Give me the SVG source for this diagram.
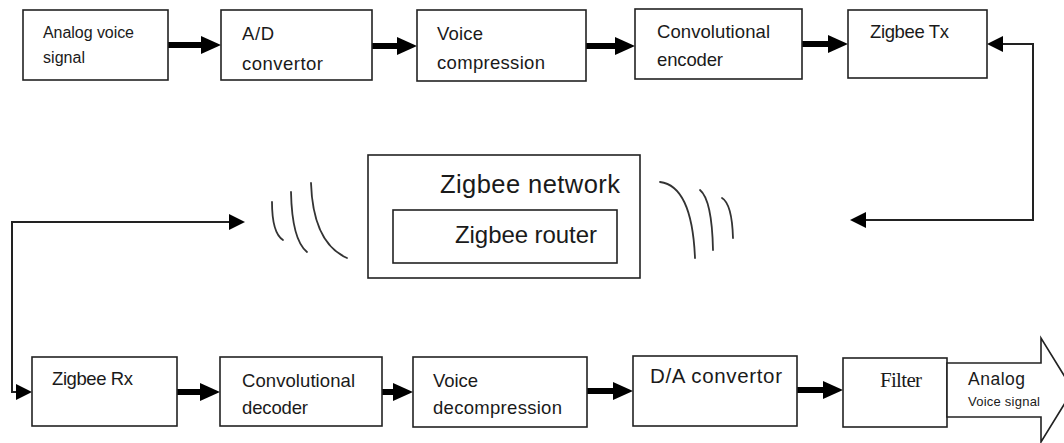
<svg xmlns="http://www.w3.org/2000/svg" width="1064" height="443" viewBox="0 0 1064 443">
<defs>
<style>
.box{fill:#fff;stroke:#222;stroke-width:1.6}
.t{font-family:"Liberation Sans",Arial,sans-serif;font-size:18.5px;fill:#1a1a1a}
.ts{font-family:"Liberation Sans",Arial,sans-serif;font-size:16px;fill:#1a1a1a}
.tl{font-family:"Liberation Sans",Arial,sans-serif;font-size:25.5px;fill:#1a1a1a}
.tf{font-family:"Liberation Serif","Times New Roman",serif;font-size:21px;fill:#1a1a1a}
.thick{stroke:#000;stroke-width:6;fill:none}
.thin{stroke:#222;stroke-width:2;fill:none}
.wave{stroke:#333;stroke-width:1.8;fill:none;stroke-linecap:round}
</style>
<marker id="ah" markerUnits="userSpaceOnUse" viewBox="0 0 20 18" markerWidth="20" markerHeight="18" refX="0" refY="9" orient="auto"><path d="M0,0 L20,9 L0,18 z" fill="#000"/></marker>
<marker id="as" markerUnits="userSpaceOnUse" viewBox="0 0 16 16" markerWidth="16" markerHeight="16" refX="0" refY="8" orient="auto"><path d="M0,0 L16,8 L0,16 z" fill="#000"/></marker>
</defs>
<rect width="1064" height="443" fill="#fff"/>

<g id="connectors">
<line class="thick" x1="168" y1="45" x2="201" y2="45" marker-end="url(#ah)"/>
<line class="thick" x1="372" y1="46" x2="397" y2="46" marker-end="url(#ah)"/>
<line class="thick" x1="586" y1="46" x2="615" y2="46" marker-end="url(#ah)"/>
<line class="thick" x1="802" y1="44" x2="828" y2="44" marker-end="url(#ah)"/>
<line class="thick" x1="177" y1="392" x2="200" y2="392" marker-end="url(#ah)"/>
<line class="thick" x1="382" y1="392" x2="393" y2="392" marker-end="url(#ah)"/>
<line class="thick" x1="587" y1="391" x2="613" y2="391" marker-end="url(#ah)"/>
<line class="thick" x1="797" y1="390" x2="823" y2="390" marker-end="url(#ah)"/>
<polyline class="thin" points="864,220 1033,220 1033,44 1003,44" marker-end="url(#as)"/>
<polyline class="thin" points="229,222 12,222 12,392 16,392" marker-end="url(#as)"/>
<path d="M245,222 L229,214 L229,230 z" fill="#000"/>
<path d="M850,220 L866,212 L866,228 z" fill="#000"/>
</g>

<g id="waves-left">
<path class="wave" d="M272,202 Q272,233 283,240"/>
<path class="wave" d="M291,192 Q292,240 307,252"/>
<path class="wave" d="M311,183 Q313,243 347,258"/>
</g>
<g id="waves-right">
<path class="wave" d="M660,182 Q692,186 695,258"/>
<path class="wave" d="M700,190 Q712,200 713,250"/>
<path class="wave" d="M722,198 Q732,204 733,238"/>
</g>

<g id="n-analog-in">
<rect class="box" x="23" y="10" width="145" height="70"/>
<text class="ts" x="43" y="38" textLength="91">Analog voice</text>
<text class="ts" x="43" y="63" textLength="42">signal</text>
</g>
<g id="n-ad">
<rect class="box" x="221" y="10" width="151" height="70"/>
<text class="t" x="242" y="40" textLength="32">A/D</text>
<text class="t" x="242" y="70" textLength="81">convertor</text>
</g>
<g id="n-vcomp">
<rect class="box" x="417" y="10" width="169" height="71"/>
<text class="t" x="437" y="40" textLength="46">Voice</text>
<text class="t" x="437" y="69" textLength="108">compression</text>
</g>
<g id="n-convenc">
<rect class="box" x="635" y="9" width="167" height="70"/>
<text class="t" x="657" y="38" textLength="113">Convolutional</text>
<text class="t" x="657" y="66" textLength="66">encoder</text>
</g>
<g id="n-tx">
<rect class="box" x="848" y="10" width="139" height="68"/>
<text class="t" x="870" y="38" textLength="79">Zigbee Tx</text>
</g>

<g id="n-network">
<rect class="box" x="368" y="155" width="272" height="123"/>
<text class="tl" x="440" y="193" textLength="180">Zigbee network</text>
</g>
<g id="n-router">
<rect class="box" x="393" y="210" width="224" height="53"/>
<text class="tl" x="455" y="243" style="font-size:24px" textLength="142">Zigbee router</text>
</g>

<g id="n-rx">
<rect class="box" x="32" y="357" width="145" height="69"/>
<text class="t" x="52" y="385" textLength="81">Zigbee Rx</text>
</g>
<g id="n-convdec">
<rect class="box" x="220" y="357" width="162" height="69"/>
<text class="t" x="242" y="387" textLength="113">Convolutional</text>
<text class="t" x="242" y="414" textLength="66">decoder</text>
</g>
<g id="n-vdecomp">
<rect class="box" x="413" y="357" width="174" height="70"/>
<text class="t" x="433" y="387" textLength="45">Voice</text>
<text class="t" x="433" y="414" textLength="129">decompression</text>
</g>
<g id="n-da">
<rect class="box" x="633" y="356" width="164" height="70"/>
<text class="t" x="650" y="383" style="font-size:20.5px" textLength="132">D/A convertor</text>
</g>
<g id="n-filter">
<rect class="box" x="843" y="358" width="104" height="69"/>
<text class="tf" x="880" y="387" textLength="42">Filter</text>
</g>
<g id="n-analog-out">
<polygon class="box" points="947,363 1041,363 1041,338 1073,390 1041,442 1041,417 947,417"/>
<text class="ts" x="968" y="385" style="font-size:17.5px" textLength="57">Analog</text>
<text class="ts" x="968" y="406" style="font-size:13px" textLength="72">Voice signal</text>
</g>
</svg>
